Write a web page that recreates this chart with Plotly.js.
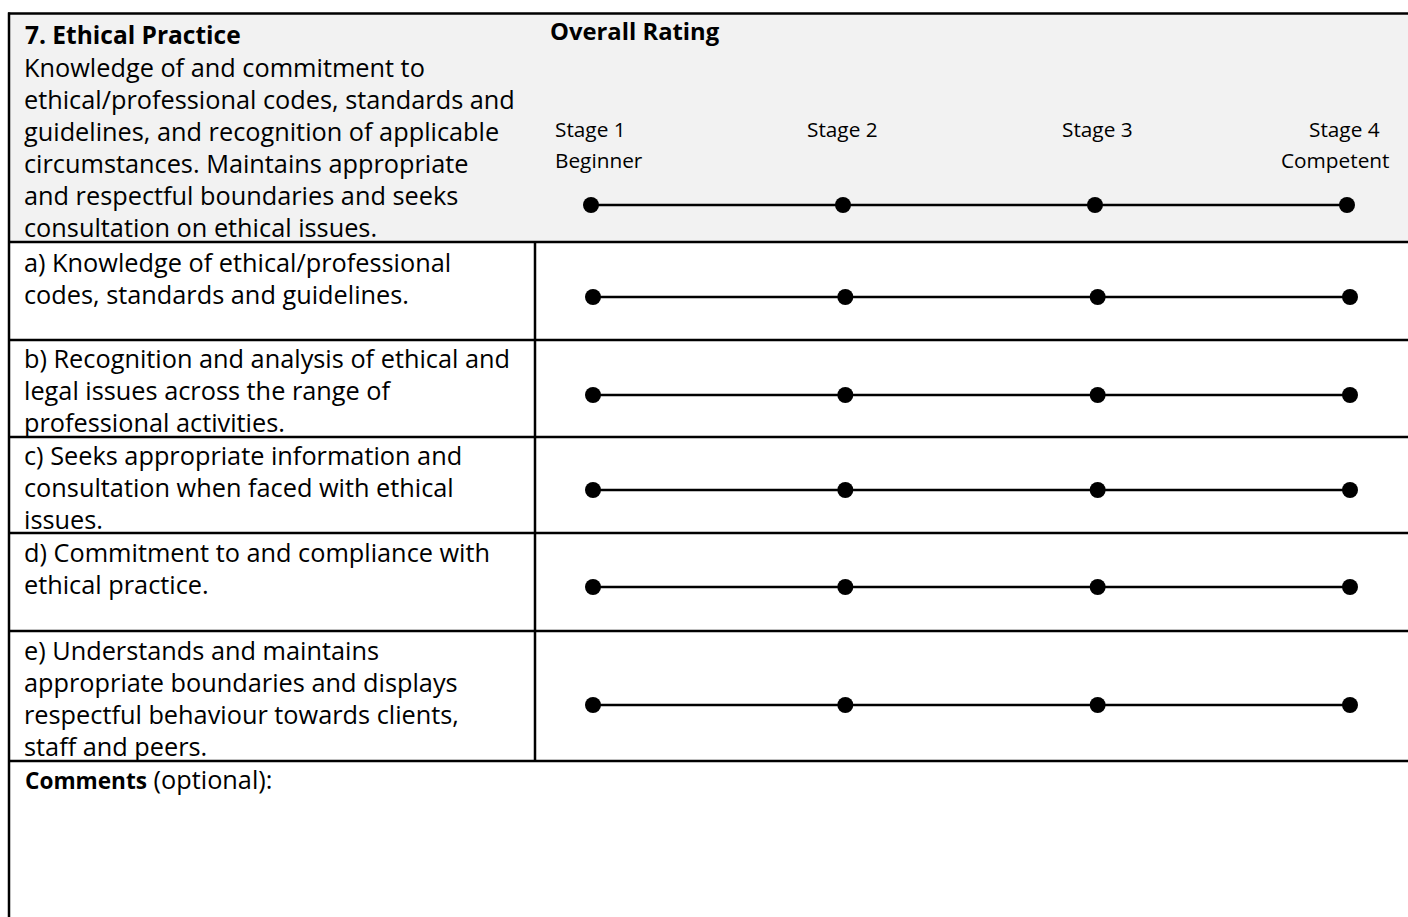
<!DOCTYPE html>
<html>
<head>
<meta charset="utf-8">
<script src="https://cdn.plot.ly/plotly-3.0.1.min.js"></script>
<style>html,body{margin:0;padding:0;background:#fff;}#chart{width:1408px;height:917px;}</style>
</head>
<body>
<div id="chart"></div>
<script>
// ---- data ----
const stages = [1, 2, 3, 4];
const stageLabels = ['Stage 1', 'Stage 2', 'Stage 3', 'Stage 4'];
const stageNotes = ['Beginner', '', '', 'Competent'];
const sectionTitle = '7. Ethical Practice';
const sectionDesc = [
  'Knowledge of and commitment to',
  'ethical/professional codes, standards and',
  'guidelines, and recognition of applicable',
  'circumstances. Maintains appropriate',
  'and respectful boundaries and seeks',
  'consultation on ethical issues.'
];
const ratingTitle = 'Overall Rating';
const itemA = ['a) Knowledge of ethical/professional', 'codes, standards and guidelines.'];
const itemB = ['b) Recognition and analysis of ethical and', 'legal issues across the range of', 'professional activities.'];
const itemC = ['c) Seeks appropriate information and', 'consultation when faced with ethical', 'issues.'];
const itemD = ['d) Commitment to and compliance with', 'ethical practice.'];
const itemE = ['e) Understands and maintains', 'appropriate boundaries and displays', 'respectful behaviour towards clients,', 'staff and peers.'];
const items = [itemA, itemB, itemC, itemD, itemE];
const commentsBold = 'Comments';
const commentsRest = ' (optional):';

// ---- layout geometry (pixels) ----
const W = 1408, H = 917;
const FONT = '"Open Sans", Lato, sans-serif';
const BODY = 25.3, TITLE = 24.5, STAGE = 20.8, RATING = 23.8, CBOLD = 22.6;
const textX = 23;
const lineGap = 32;
const itemTop = [261.5, 357.5, 454.5, 551.5, 649.5];
const itemDotY = [297, 395, 490, 587, 705];
const headerDotY = 205;
const hLines = [242, 340, 437, 533, 631, 761];

const traces = [];
traces.push({
  x: stages, y: stages.map(() => headerDotY), xaxis: 'x3', yaxis: 'y',
  mode: 'lines+markers', line: {color: '#000', width: 2.5},
  marker: {color: '#000', size: 16}, hoverinfo: 'skip', showlegend: false
});
items.forEach((it, i) => {
  traces.push({
    x: stages, y: stages.map(() => itemDotY[i]), xaxis: 'x2', yaxis: 'y',
    mode: 'lines+markers', line: {color: '#000', width: 2.5},
    marker: {color: '#000', size: 16}, hoverinfo: 'skip', showlegend: false
  });
});

const annotations = [];
function txt(x, y, text, size, opts) {
  annotations.push(Object.assign({
    x: x, y: y, xref: 'x', yref: 'y', text: text, showarrow: false,
    xanchor: 'left', yanchor: 'middle', borderpad: 0,
    font: {family: FONT, size: size, color: '#000'}
  }, opts || {}));
}
txt(textX + 1, 34.5, '<b>' + sectionTitle + '</b>', TITLE);
sectionDesc.forEach((l, i) => txt(textX, 66.5 + i * lineGap, l, BODY));
txt(549, 30.5, '<b>' + ratingTitle + '</b>', RATING);
items.forEach((it, k) => it.forEach((l, i) => txt(textX, itemTop[k] + i * lineGap, l, BODY)));
txt(textX + 1, 778.5, '<b><span style="font-size:' + CBOLD + 'px">' + commentsBold + '</span></b>' + commentsRest, BODY);

const stageLabelPos = [[554, 'left'], [842, 'center'], [1097, 'center'], [1381, 'right']];
const stageNotePos = [[554, 'left'], null, null, [1391, 'right']];
stageLabels.forEach((s, i) => txt(stageLabelPos[i][0], 128.5, s, STAGE, {xanchor: stageLabelPos[i][1]}));
stageNotes.forEach((s, i) => { if (s) txt(stageNotePos[i][0], 159.5, s, STAGE, {xanchor: stageNotePos[i][1]}); });

const shapes = [];
shapes.push({type: 'rect', xref: 'x', yref: 'y', x0: 9, x1: W, y0: 14, y1: 242, fillcolor: '#f2f2f2', line: {width: 0}, layer: 'below'});
shapes.push({type: 'line', xref: 'x', yref: 'y', x0: 8, x1: W, y0: 13.5, y1: 13.5, line: {color: '#000', width: 2.5}});
shapes.push({type: 'line', xref: 'x', yref: 'y', x0: 9, x1: 9, y0: 12.5, y1: H, line: {color: '#000', width: 2.5}});
hLines.forEach(y => shapes.push({type: 'line', xref: 'x', yref: 'y', x0: 8, x1: W, y0: y, y1: y, line: {color: '#000', width: 2.5}}));
shapes.push({type: 'line', xref: 'x', yref: 'y', x0: 535, x1: 535, y0: 242, y1: 761, line: {color: '#000', width: 2.5}});

function stageRange(px1, px4) {
  const s = (px4 - px1) / 3;
  const r0 = 1 - px1 / s;
  return [r0, r0 + W / s];
}

const hidden = {visible: false, showgrid: false, zeroline: false, fixedrange: true};
const layout = {
  width: W, height: H,
  margin: {l: 0, r: 0, t: 0, b: 0, pad: 0},
  paper_bgcolor: '#fff', plot_bgcolor: 'rgba(0,0,0,0)',
  xaxis: Object.assign({range: [0, W], domain: [0, 1]}, hidden),
  xaxis2: Object.assign({range: stageRange(593, 1350), overlaying: 'x', domain: [0, 1]}, hidden),
  xaxis3: Object.assign({range: stageRange(591, 1347), overlaying: 'x', domain: [0, 1]}, hidden),
  yaxis: Object.assign({range: [H, 0], domain: [0, 1]}, hidden),
  shapes: shapes,
  annotations: annotations,
  showlegend: false
};
Plotly.newPlot('chart', traces, layout, {staticPlot: true, displayModeBar: false});
</script>
</body>
</html>
